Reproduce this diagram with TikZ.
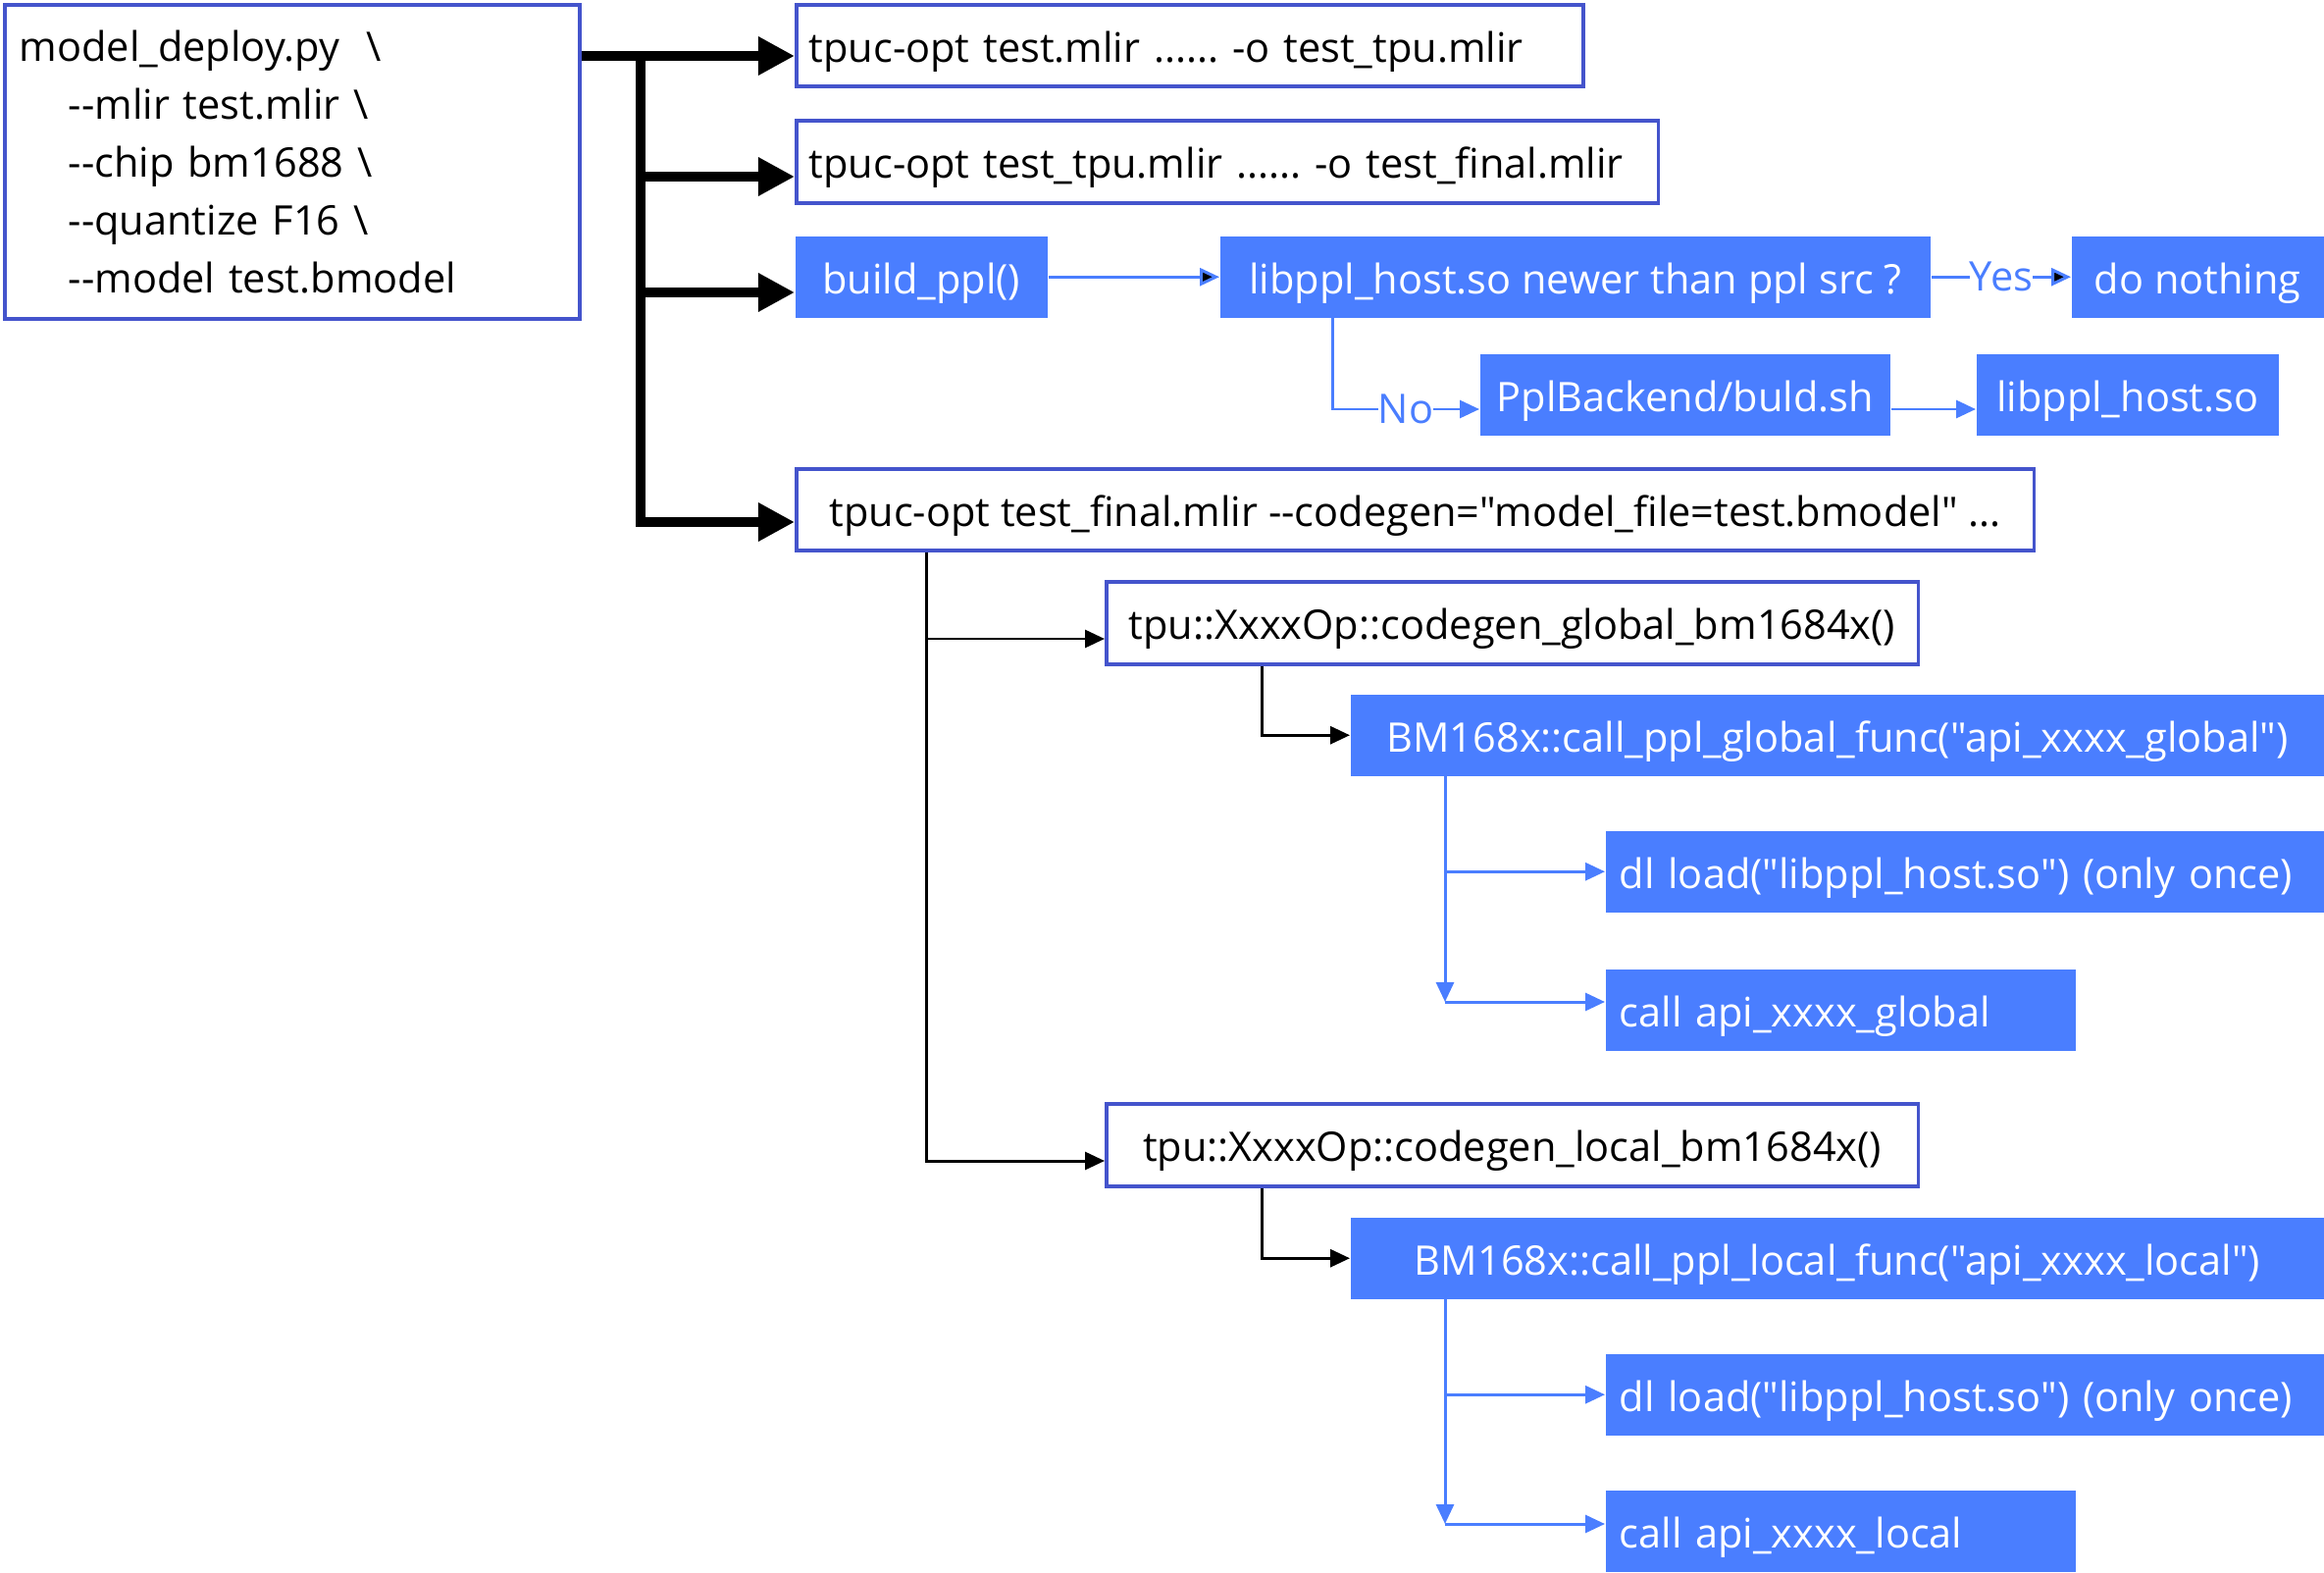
\documentclass[tikz,border=0pt]{standalone}
\usepackage{fontspec}
\setmainfont{Open Sans}[Ligatures=TeXOff]
\usetikzlibrary{arrows.meta}
\frenchspacing
\definecolor{pplblue}{RGB}{74,126,255}
\definecolor{lineblue}{RGB}{68,84,204}
\tikzstyle{every node}=[font=\fontsize{11.8}{16.8}\selectfont]
\tikzstyle{frame}=[draw=lineblue,line width=1pt,anchor=north west,minimum height=0.83cm,inner sep=0pt]
\tikzstyle{box}=[frame,text height=0.38cm,text depth=0.04cm]
\tikzstyle{ppl}=[fill=pplblue,text=white,anchor=north west,minimum height=0.83cm,inner sep=0pt,text height=0.38cm,text depth=0.04cm]
\tikzstyle{fat}=[line width=2.8pt,-{Triangle[length=0.37cm,width=0.37cm]}]
\tikzstyle{slim}=[line width=0.85pt,-{Triangle[length=0.2cm,width=0.18cm]}]
\tikzstyle{ppledge}=[slim,draw=pplblue]
\tikzstyle{lbl}=[fill=white,text=pplblue,inner sep=0pt]

\begin{document}
\begin{tikzpicture}[x=0.01cm,y=-0.01cm]
  \useasboundingbox (0,0) rectangle (2369,1603);
  \node(dep)[frame,text width=5.56cm,inner xsep=0.15cm,inner ysep=0.03cm,minimum height=3.2cm,align=left] at (3,3){model\_deploy.py\ \ \textbackslash\\
    \hspace{0.5cm}--mlir test.mlir \textbackslash\\
    \hspace{0.5cm}--chip bm1688 \textbackslash\\
    \hspace{0.5cm}--quantize F16 \textbackslash\\
    \hspace{0.5cm}--model test.bmodel};
  \node(opt1)[box,text width=7.76cm,inner xsep=0.13cm,align=left] at (810,3){tpuc-opt test.mlir ...... -o test\_tpu.mlir};
  \node(opt2)[box,text width=8.52cm,inner xsep=0.13cm,align=left,minimum height=0.84cm] at (810,121){tpuc-opt test\_tpu.mlir ...... -o test\_final.mlir};
  \node(bld)[ppl,minimum width=2.57cm] at (810,240){build\_ppl()};
  \node(chk)[ppl,minimum width=7.24cm] at (1243,240){libppl\_host.so newer than ppl src ?};
  \node(nop)[ppl,minimum width=2.57cm] at (2111,240){do nothing};
  \node(sh)[ppl,minimum width=4.18cm] at (1508,360){PplBackend/buld.sh};
  \node(so)[ppl,minimum width=3.08cm] at (2014,360){libppl\_host.so};
  \node(opt3)[box,minimum width=12.61cm] at (810,476){tpuc-opt test\_final.mlir --codegen="model\_file=test.bmodel" ...};
  \node(glb)[box,minimum width=8.27cm,minimum height=0.84cm] at (1126,591){tpu::XxxxOp::codegen\_global\_bm1684x()};
  \node(cg)[ppl,minimum width=9.92cm] at (1376,707){BM168x::call\_ppl\_global\_func("api\_xxxx\_global")};
  \node(dlg)[ppl,text width=7.04cm,inner xsep=0.14cm,align=left] at (1636,846){dl load("libppl\_host.so") (only once)};
  \node(apig)[ppl,text width=4.51cm,inner xsep=0.14cm,align=left] at (1636,987){call api\_xxxx\_global};
  \node(loc)[box,minimum width=8.27cm,minimum height=0.84cm] at (1126,1123){tpu::XxxxOp::codegen\_local\_bm1684x()};
  \node(cl)[ppl,minimum width=9.92cm] at (1376,1240){BM168x::call\_ppl\_local\_func("api\_xxxx\_local")};
  \node(dll)[ppl,text width=7.04cm,inner xsep=0.14cm,align=left] at (1636,1379){dl load("libppl\_host.so") (only once)};
  \node(apil)[ppl,text width=4.51cm,inner xsep=0.14cm,align=left] at (1636,1518){call api\_xxxx\_local};

  \coordinate(f0) at (653,57);
  \coordinate(f1) at (653,180);
  \coordinate(f2) at (653,298);
  \coordinate(f3) at (653,532);
  \draw[fat] (dep.east |- f0) -- (opt1.west |- f0);
  \draw[fat] (f0) -- (f3) -- (opt3.west |- f3);
  \draw[fat] (f1) -- (opt2.west |- f1);
  \draw[fat] (f2) -- (bld.west |- f2);

  \coordinate(c0) at (944,651);
  \coordinate(c1) at (944,1183);
  \coordinate(g0) at (1286,751);
  \draw[slim] (opt3.south -| c1) -- (c1) -- (loc.west |- c1);
  \draw[slim] (c0) -- (glb.west |- c0);
  \draw[slim] (glb.south -| g0) |- (cg.west);
  \draw[slim] (loc.south -| g0) |- (cl.west);

  \path[ppledge]  (bld) edge (chk)
	          (chk) edge node[lbl]{Yes} (nop);
  \coordinate(n0) at (1358,417);
  \draw[ppledge] (chk.south -| n0) -- (n0) -- node[lbl]{No} (sh.west |- n0);
  \draw[ppledge] (sh.east |- n0) -- (so.west |- n0);

  \coordinate(d0) at (1473,1021);
  \coordinate(d1) at (1473,1553);
  \draw[ppledge] (cg.south -| d0) -- (d0);
  \draw[ppledge] (d0) -- (apig.west |- d0);
  \draw[ppledge] (cg.south -| d0) |- (dlg.west);
  \draw[ppledge] (cl.south -| d1) -- (d1);
  \draw[ppledge] (d1) -- (apil.west |- d1);
  \draw[ppledge] (cl.south -| d1) |- (dll.west);
\end{tikzpicture}
\end{document}
